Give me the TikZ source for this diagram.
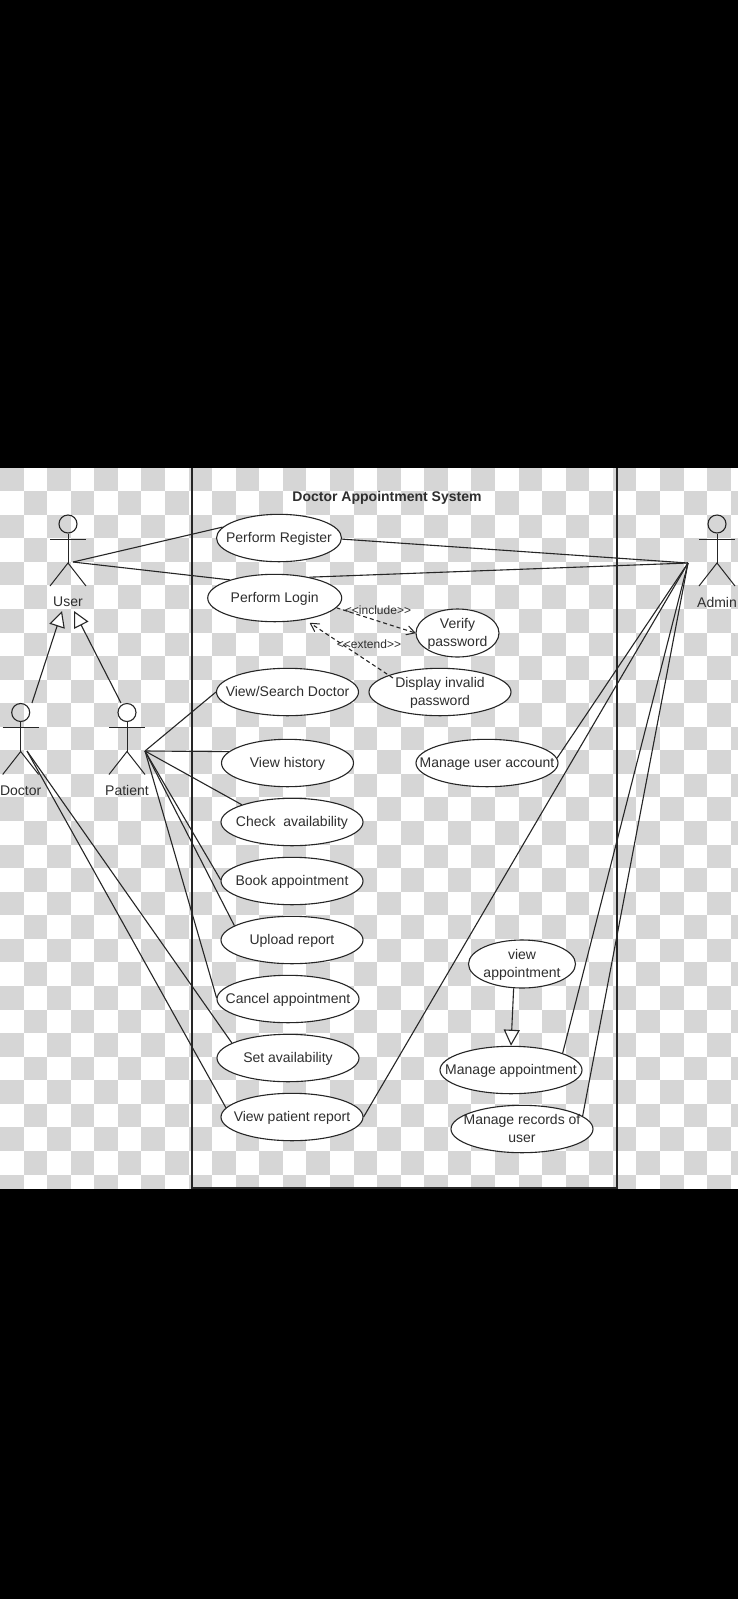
\documentclass[tikz,border=0pt]{standalone}
\usepackage{fontspec}
\setmainfont{Liberation Sans}
\usetikzlibrary{arrows.meta,shapes.geometric}
\definecolor{chk}{HTML}{D6D6D6}
\definecolor{ink}{HTML}{262626}
\definecolor{txt}{HTML}{2E2E2E}
\newcommand{\uctext}[1]{\raisebox{-0.3em}[0pt][0pt]{\makebox[0pt][c]{\def\arraystretch{1.03}\begin{tabular}{@{}c@{}}#1\end{tabular}}}}
\tikzset{
  usecase/.style={ellipse,draw=ink,fill=white,line width=1.1pt,inner sep=0pt,minimum width=142pt,minimum height=47.4pt,text=txt,font=\fontsize{14}{17.5}\selectfont},
  head/.style={circle,draw=ink,line width=1.1pt,inner sep=0pt,minimum size=18pt},
  assoc/.style={draw=ink,line width=1.1pt},
  limb/.style={draw=ink,line width=1pt},
  gen/.style={draw=ink,line width=1.1pt,-{Triangle[open,length=16pt,width=16pt,fill=white]}},
  dep/.style={draw=ink,line width=1.1pt,dashed,dash pattern=on 4pt off 3pt,-{Straight Barb[length=8pt,width=9pt,line width=1pt,round]}},
  actorlabel/.style={inner sep=0pt,text=txt,font=\fontsize{14}{17}\selectfont},
  deplabel/.style={inner sep=0pt,text=txt,font=\fontsize{12}{14}\selectfont},
  titlelabel/.style={inner sep=0pt,text=txt,font=\fontsize{14}{17}\selectfont\bfseries},
  sysbox/.style={draw=ink,line width=1.2pt}
}
% actor: name, x of body, y of head centre, label
\newcommand{\umlactor}[4]{%
  \node[head] (#1) at (#2,#3) {};
  \coordinate (#1neck) at (#2,#3+15);
  \coordinate (#1hip) at (#2,#3+39);
  \coordinate (#1armL) at (#2-18,#3+15);
  \coordinate (#1armR) at (#2+18,#3+15);
  \coordinate (#1legL) at (#2-18,#3+62);
  \coordinate (#1legR) at (#2+18,#3+62);
  \draw[limb] (#1.south) -- (#1hip);
  \draw[limb] (#1armL) -- (#1armR);
  \draw[limb] (#1legL) -- (#1hip) -- (#1legR);
  \node[actorlabel] (#1label) at (#2,#3+78) {#4};
}
\begin{document}
\begin{tikzpicture}[x=1pt,y=-1pt]
\useasboundingbox (0,0) rectangle (738,1599);
% page background
\fill[black] (0,0) rectangle (738,1599);
\begin{scope}
  \clip (0,467.5) rectangle (738,1188.5);
  \fill[white] (0,467.5) rectangle (738,1188.5);
  \foreach \r in {0,...,30}{
    \foreach \c in {0,...,31}{
      \pgfmathparse{int(mod(\r+\c,2))}
      \ifnum\pgfmathresult=0
        \fill[chk] ({\c*23.57},{467.5+\r*23.57}) rectangle ({(\c+1)*23.57},{467.5+(\r+1)*23.57});
      \fi
    }
  }
\end{scope}
% system boundary
\draw[sysbox] (192,467.5) -- (192,1188) -- (617,1188) -- (617,467.5);
\node[titlelabel] (title) at (387,498) {Doctor Appointment System};
% use cases
\node[usecase,minimum width=125pt] (reg) at (279,538) {\uctext{Perform Register}};
\node[usecase,minimum width=134pt] (login) at (274.7,598) {\uctext{Perform Login}};
\node[usecase] (search) at (287.5,692) {\uctext{View/Search Doctor}};
\node[usecase,minimum width=132pt] (hist) at (287.5,763) {\uctext{View history}};
\node[usecase] (check) at (292,822) {\uctext{Check\ \ availability}};
\node[usecase] (book) at (292,881) {\uctext{Book appointment}};
\node[usecase] (upload) at (292,940) {\uctext{Upload report}};
\node[usecase] (cancel) at (288,999) {\uctext{Cancel appointment}};
\node[usecase] (setav) at (288,1058) {\uctext{Set availability}};
\node[usecase] (vpr) at (292,1117) {\uctext{View patient report}};
\node[usecase,minimum width=83pt,minimum height=48pt] (verify) at (457.5,633) {\uctext{Verify\\password}};
\node[usecase] (disp) at (440,692) {\uctext{Display invalid\\password}};
\node[usecase] (muser) at (487,763) {\uctext{Manage user account}};
\node[usecase,minimum width=107pt,minimum height=48pt] (vapp) at (522,964) {\uctext{view\\appointment}};
\node[usecase] (mapp) at (511,1070) {\uctext{Manage appointment}};
\node[usecase] (mrec) at (522,1129) {\uctext{Manage records of\\user}};
% actors
\umlactor{user}{68}{524}{User}
\umlactor{doctor}{20.7}{712.5}{Doctor}
\umlactor{patient}{127}{712.5}{Patient}
\umlactor{admin}{717}{524}{Admin}
% connection points of the actors
\coordinate (userP) at (73,562);
\coordinate (doctorP) at (27,751);
\coordinate (patientP) at (145,751);
\coordinate (adminP) at (688,563);
\coordinate (userTipD) at (62,611);
\coordinate (userTipP) at (74,611);
\coordinate (doctorTop) at (32,703);
\coordinate (patientTop) at (121,703);
\coordinate (dispIn) at (393,678);
\coordinate (loginTip) at (310,623);
% associations
\draw[assoc] (userP) -- (reg.169);
\draw[assoc] (userP) -- (login.158);
\draw[assoc] (adminP) -- (reg.-1);
\draw[assoc] (adminP) -- (login.31);
\draw[assoc] (adminP) -- (muser.4);
\draw[assoc] (adminP) -- (vpr.0);
\draw[assoc] (adminP) -- (mapp.18.4);
\draw[assoc] (adminP) -- (mrec.12.9);
\draw[assoc] (patientP) -- (search.180);
\draw[assoc] (patientP) -- (hist.169.7);
\draw[assoc] (patientP) -- (check.161.2);
\draw[assoc] (patientP) -- (book.179);
\draw[assoc] (patientP) -- (upload.166);
\draw[assoc] (patientP) -- (cancel.179);
\draw[assoc] (doctorP) -- (setav.165.5);
\draw[assoc] (doctorP) -- (vpr.172);
% generalisation
\draw[gen] (doctorTop) -- (userTipD);
\draw[gen] (patientTop) -- (userTipP);
\draw[gen] (vapp.251.6) -- (mapp.90);
% include / extend
\draw[dep] (login.-9) -- (verify.180);
\draw[dep] (dispIn) -- (loginTip);
\node[deplabel] (inc) at (378,610) {<{}<include>{}>};
\node[deplabel] (ext) at (369,644) {<{}<extend>{}>};
\end{tikzpicture}
\end{document}
